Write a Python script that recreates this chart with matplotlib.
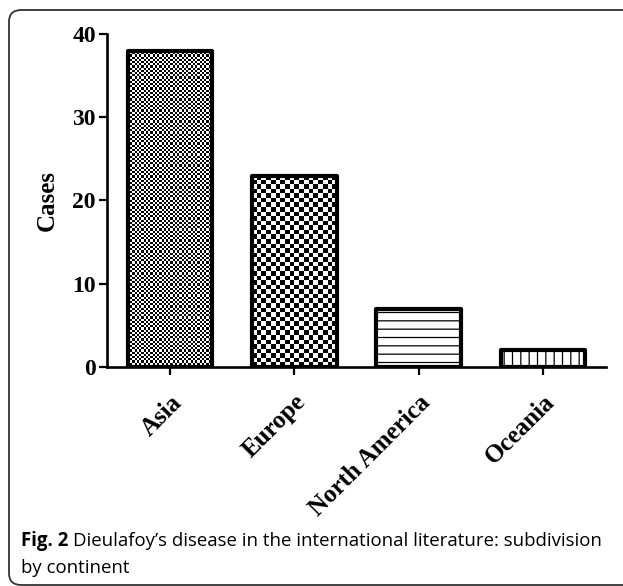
import matplotlib
matplotlib.use("Agg")
import matplotlib.pyplot as plt
import numpy as np
from matplotlib.patches import FancyBboxPatch

# data
continents = ["Asia", "Europe", "North America", "Oceania"]
cases = [38, 23, 7, 2]
y_ticks = [0, 10, 20, 30, 40]

# bar fill styles: checker cell size in pixels, or a hatch
fills = [("checker", 2.2), ("checker", 4.6), ("hatch", "--"), ("hatch", "||")]

plt.rcParams["hatch.linewidth"] = 0.9
serif = ["Liberation Serif", "DejaVu Serif"]

fig = plt.figure(figsize=[6.23, 5.86], dpi=100)
ax = fig.add_axes([107 / 623, 219 / 586, (606 - 107) / 623, (552 - 219) / 586])

x = np.arange(len(continents))
bars = ax.bar(x, cases, 0.68, facecolor="white", edgecolor="black",
              linewidth=3, zorder=3, joinstyle="round")

ax.set_xlim(-0.507, 3.507)
ax.set_ylim(0, 40)
fig.canvas.draw()

for bar, (kind, val) in zip(bars, fills):
    if kind == "hatch":
        bar.set_hatch(val)
        continue
    # checker image clipped into the bar
    x0, y0 = bar.get_x(), bar.get_y()
    x1, y1 = x0 + bar.get_width(), y0 + bar.get_height()
    (px0, py0), (px1, py1) = ax.transData.transform([(x0, y0), (x1, y1)])
    nx = max(1, int(round((px1 - px0) / val)))
    ny = max(1, int(round((py1 - py0) / val)))
    grid = (np.add.outer(np.arange(ny), np.arange(nx)) % 2).astype(float)
    im = ax.imshow(grid, cmap="gray", extent=(x0, x1, y0, y1), aspect="auto",
                   interpolation="nearest", zorder=2, origin="lower")
    im.set_clip_path(bar)
    bar.set_facecolor("none")

ax.set_xlim(-0.507, 3.507)
ax.set_ylim(0, 40)

for side in ["top", "right"]:
    ax.spines[side].set_visible(False)
for side in ["left", "bottom"]:
    ax.spines[side].set_linewidth(1.9)
    ax.spines[side].set_zorder(4)

ax.set_yticks(y_ticks)
ax.set_xticks(x)
ax.set_xticklabels(continents, rotation=45, ha="right", va="top",
                   rotation_mode="anchor", fontsize=18, fontweight="bold",
                   family=serif)
for lab in ax.get_yticklabels():
    lab.set_fontsize(17)
    lab.set_fontweight("bold")
    lab.set_family(serif)
ax.tick_params(axis="both", direction="out", length=6, width=1.6, pad=2)
ax.tick_params(axis="x", pad=11)
ax.set_ylabel("Cases", fontsize=18, fontweight="bold", family=serif, labelpad=10)

# caption: bold figure number, then the plain text after it
base1 = 1 - 546 / 586
cap1 = fig.text(21 / 623, base1, "Fig. 2", fontsize=13.4, fontweight="bold",
                family="Open Sans", va="baseline")
fig.canvas.draw()
bb = cap1.get_window_extent()
fig.text((bb.x1 + 5) / 623, base1,
         "Dieulafoy\u2019s disease in the international literature: subdivision",
         fontsize=13.4, family="Open Sans", va="baseline")
fig.text(21 / 623, 1 - 573 / 586, "by continent", fontsize=13.4,
         family="Open Sans", va="baseline")

# rounded frame around the panel
frame = FancyBboxPatch((9 / 623, 1 / 586), 1.2, 1 - 11 / 586,
                       boxstyle="round,pad=0,rounding_size=0.02",
                       transform=fig.transFigure, facecolor="none",
                       edgecolor="#333333", linewidth=1.3, clip_on=False)
fig.patches.append(frame)

fig.savefig("out.png", dpi=100)
